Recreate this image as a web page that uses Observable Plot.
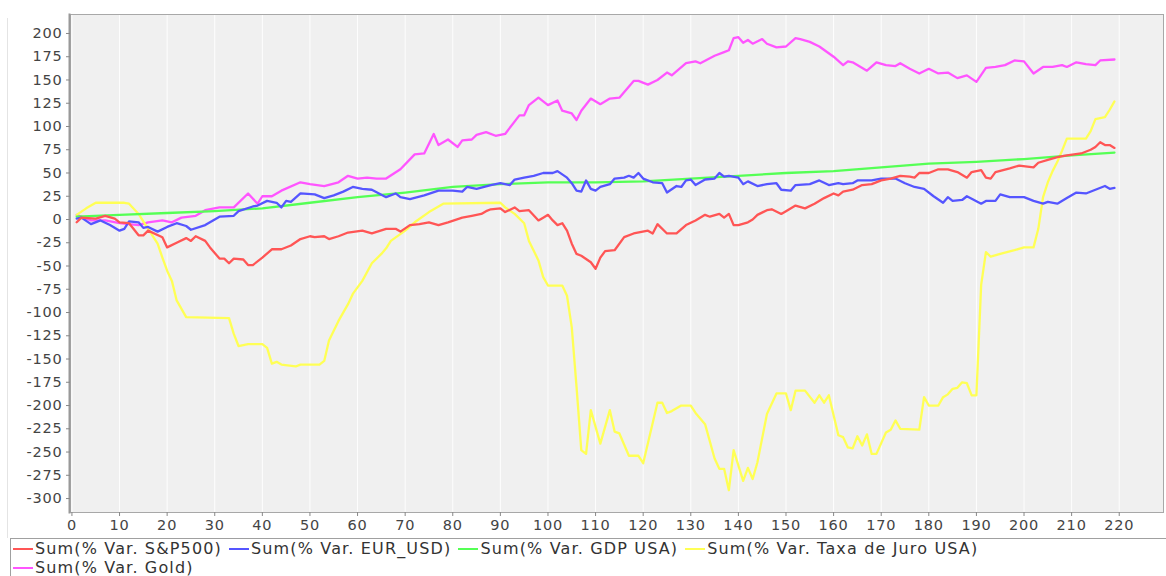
<!DOCTYPE html>
<html><head><meta charset="utf-8">
<script src="https://cdn.jsdelivr.net/npm/d3@7"></script>
<script src="https://cdn.jsdelivr.net/npm/@observablehq/plot@0.6"></script>
<style>
body{margin:0;background:#fff;font-family:"DejaVu Sans",sans-serif;}
#wrap{position:relative;width:1166px;height:576px;overflow:hidden;background:#fff;}
#chart{position:absolute;left:0;top:0;}
#chart svg text{letter-spacing:0.8px;}
#legend{position:absolute;left:10px;top:538px;width:1160px;height:50px;border:1px solid #a0a0a0;box-sizing:border-box;display:flex;flex-wrap:wrap;align-content:flex-start;padding-left:2px;}
.item{display:flex;align-items:center;height:19px;line-height:19px;font-size:16px;letter-spacing:1.15px;color:#333;margin-right:7px;white-space:nowrap;}
.sw{width:20px;height:2px;margin-right:2px;flex:none;}
.brk{flex-basis:100%;height:0;}
#edge{position:absolute;left:7px;top:18px;width:1px;height:520px;background:#e4e4e4;}
</style></head>
<body><div id="wrap"><div id="edge"></div><div id="chart"></div><div id="legend"></div></div>
<script>
const seriesNames = ["Sum(% Var. S&P500)", "Sum(% Var. EUR_USD)", "Sum(% Var. GDP USA)", "Sum(% Var. Taxa de Juro USA)", "Sum(% Var. Gold)"];
const seriesColors = ["#ff5555", "#5555ff", "#55ff55", "#ffff55", "#ff55ff"];
const xTickValues = [0,10,20,30,40,50,60,70,80,90,100,110,120,130,140,150,160,170,180,190,200,210,220];
const yTickValues = [-300,-275,-250,-225,-200,-175,-150,-125,-100,-75,-50,-25,0,25,50,75,100,125,150,175,200];

const sp500 = [[1,-3],[2,2],[5,1],[7,4],[9,1],[10,-3],[12,-4],[14,-17],[15,-17],[16,-12],[19,-19],[20,-30],[22,-25],[24,-20],[25,-23],[26,-18],[28,-23],[29,-30],[31,-42],[32,-42],[33,-47],[34,-42],[36,-43],[37,-49],[38,-49],[40,-41],[42,-32],[44,-32],[46,-28],[48,-21],[50,-18],[51,-19],[53,-18],[54,-21],[56,-18],[58,-14],[61,-12],[63,-15],[66,-10],[68,-10],[69,-13],[71,-6],[73,-5],[75,-3],[77,-6],[79,-3],[82,2],[84,4],[86,6],[87,9],[88,11],[90,12],[91,8],[93,13],[94,9],[96,10],[98,-1],[99,2],[100,5],[101,-1],[102,-6],[103,-4],[104,-12],[105,-26],[106,-37],[107,-39],[109,-46],[110,-53],[111,-41],[112,-34],[114,-33],[116,-19],[118,-15],[121,-12],[122,-15],[123,-5],[125,-15],[127,-15],[129,-6],[131,-1],[133,5],[134,3],[136,6],[137,2],[138,6],[139,-6],[140,-6],[142,-3],[143,0],[144,5],[146,10],[147,11],[149,6],[150,9],[152,15],[154,12],[156,17],[158,23],[160,28],[161,26],[162,30],[164,32],[166,37],[168,38],[170,42],[172,44],[174,47],[176,46],[177,45],[178,50],[180,50],[182,54],[184,54],[186,51],[188,45],[189,51],[191,53],[192,45],[193,44],[194,51],[197,55],[199,58],[202,56],[203,61],[205,64],[207,67],[209,69],[212,71],[214,75],[215,78],[216,83],[217,80],[218,80],[219,77]];

const eurusd = [[1,1],[2,2],[4,-5],[6,-1],[8,-6],[10,-12],[11,-10],[12,-2],[14,-3],[15,-9],[16,-8],[18,-13],[20,-8],[22,-4],[24,-7],[25,-11],[28,-6],[31,3],[34,4],[35,9],[38,14],[39,15],[41,20],[43,18],[44,13],[45,20],[46,19],[48,28],[51,27],[53,23],[55,26],[57,30],[59,35],[61,33],[63,32],[66,24],[68,28],[69,24],[71,22],[74,26],[77,31],[80,31],[82,30],[83,35],[85,33],[88,37],[90,39],[92,37],[93,43],[95,45],[97,47],[99,50],[101,50],[102,52],[104,45],[105,39],[106,31],[107,30],[108,42],[109,33],[110,31],[111,35],[113,38],[114,44],[116,45],[117,47],[118,45],[119,50],[120,44],[122,40],[124,39],[125,29],[127,36],[128,35],[129,42],[130,43],[131,37],[133,43],[135,44],[136,50],[137,46],[138,47],[140,45],[141,38],[142,41],[144,36],[146,38],[148,39],[149,32],[151,31],[152,37],[155,38],[157,42],[159,37],[161,39],[162,38],[164,39],[165,42],[168,42],[170,44],[173,44],[175,39],[177,35],[179,33],[181,25],[183,18],[184,24],[185,20],[187,21],[188,25],[191,17],[192,20],[194,20],[195,27],[197,24],[200,24],[202,20],[204,17],[205,19],[207,17],[209,23],[211,29],[213,28],[215,32],[217,36],[218,33],[219,34]];

const gdpUsa = [[1,3],[10,5],[20,7],[30,9],[40,12],[50,18],[60,24],[70,29],[80,35],[90,38],[100,40],[110,40],[120,41],[130,44],[140,47],[150,50],[160,52],[170,56],[180,60],[190,62],[200,65],[210,69],[219,72]];

const taxaJuro = [[1,5],[3,12],[5,18],[11,18],[12,17],[14,6],[16,-10],[18,-26],[19,-41],[20,-55],[21,-66],[22,-87],[24,-105],[33,-106],[34,-123],[35,-136],[37,-134],[40,-134],[41,-138],[42,-155],[43,-153],[44,-156],[47,-158],[48,-156],[52,-156],[53,-152],[54,-130],[56,-109],[58,-91],[59,-80],[61,-66],[63,-47],[65,-37],[66,-31],[67,-23],[70,-12],[72,-3],[75,8],[78,17],[90,18],[91,13],[93,6],[95,-4],[96,-23],[98,-44],[99,-62],[100,-71],[103,-71],[104,-82],[105,-116],[106,-180],[107,-248],[108,-252],[109,-205],[111,-241],[113,-205],[114,-228],[115,-230],[117,-254],[119,-254],[120,-262],[123,-197],[124,-197],[125,-208],[126,-206],[128,-200],[130,-200],[131,-208],[133,-220],[135,-257],[136,-268],[137,-268],[138,-291],[139,-248],[141,-281],[142,-267],[143,-279],[144,-261],[146,-209],[148,-187],[150,-187],[151,-205],[152,-184],[154,-184],[156,-197],[157,-189],[158,-197],[159,-189],[161,-232],[162,-234],[163,-245],[164,-246],[165,-233],[166,-243],[167,-231],[168,-252],[169,-252],[171,-229],[172,-226],[173,-216],[174,-225],[178,-226],[179,-191],[180,-200],[182,-200],[183,-191],[184,-188],[185,-182],[186,-181],[187,-175],[188,-176],[189,-189],[190,-189],[191,-70],[192,-35],[193,-40],[195,-37],[198,-33],[200,-30],[202,-30],[203,-10],[204,24],[205,40],[206,52],[207,62],[208,74],[209,87],[213,87],[214,95],[215,108],[217,110],[218,118],[219,127]];

const gold = [[1,5],[4,-1],[7,-1],[10,-4],[14,-6],[16,-3],[19,-1],[21,-3],[23,2],[26,4],[28,10],[31,13],[34,13],[37,28],[39,17],[40,25],[42,25],[44,31],[48,40],[50,38],[53,36],[56,40],[58,47],[60,44],[62,45],[64,44],[66,44],[69,54],[72,70],[74,71],[76,92],[77,80],[79,86],[81,78],[82,85],[84,86],[85,91],[87,94],[89,90],[91,92],[94,112],[95,112],[96,123],[98,131],[100,123],[102,128],[103,117],[105,114],[106,107],[107,117],[109,130],[111,124],[113,130],[115,131],[118,149],[119,149],[121,145],[123,150],[125,158],[126,155],[129,168],[131,170],[132,168],[135,176],[137,180],[138,182],[139,195],[140,196],[141,190],[142,193],[143,189],[145,194],[146,189],[148,185],[150,186],[152,195],[153,194],[155,191],[157,186],[160,175],[162,166],[163,170],[164,169],[167,160],[169,169],[171,166],[173,165],[174,168],[176,162],[178,157],[180,162],[182,157],[184,158],[186,152],[188,155],[190,148],[192,163],[194,164],[196,166],[198,171],[200,170],[202,157],[204,164],[206,164],[208,166],[209,164],[211,169],[213,167],[215,166],[216,171],[219,172]];

const seriesData = [sp500, eurusd, gdpUsa, taxaJuro, gold];

// Build rows; draw in reverse order so the first series ends on top
const rows = [];
for (let i = seriesData.length - 1; i >= 0; i--) {
  for (const [x, y] of seriesData[i]) rows.push({x, y, name: seriesNames[i]});
}

const chart = Plot.plot({
  width: 1166,
  height: 536,
  marginLeft: 70,
  marginRight: 3,
  marginTop: 14,
  marginBottom: 24,
  x: {domain: [-0.3, 229.3]},
  y: {domain: [-315, 220.4]},
  color: {domain: seriesNames, range: seriesColors},
  style: {fontFamily: "DejaVu Sans, sans-serif", fontSize: "14.5px", color: "#444", background: "transparent", overflow: "visible"},
  marks: [
    Plot.frame({fill: "#f0f0f0", stroke: null}),
    Plot.gridX(xTickValues, {stroke: "#ffffff", strokeOpacity: 0.9}),
    Plot.frame({stroke: "#a8a8a8"}),
    Plot.frame({anchor: "left", stroke: "#999", strokeWidth: 2, dx: -1}),
    Plot.axisX(xTickValues, {tickSize: 4, tickPadding: 3, tickFormat: d => String(d), label: null, stroke: "#888"}),
    Plot.axisY(yTickValues, {tickSize: 4, tickPadding: 4, tickFormat: d => String(d), label: null, stroke: "#888"}),
    Plot.line(rows, {x: "x", y: "y", z: "name", stroke: "name", strokeWidth: 2.3, strokeLinejoin: "round"})
  ]
});
document.getElementById("chart").appendChild(chart);

const legend = document.getElementById("legend");
seriesNames.forEach((n, i) => {
  if (i === 4) {
    const b = document.createElement("div");
    b.className = "brk";
    legend.appendChild(b);
  }
  const item = document.createElement("div");
  item.className = "item";
  const sw = document.createElement("span");
  sw.className = "sw";
  sw.style.background = seriesColors[i];
  const t = document.createElement("span");
  t.textContent = n;
  item.appendChild(sw);
  item.appendChild(t);
  legend.appendChild(item);
});
</script></body></html>
